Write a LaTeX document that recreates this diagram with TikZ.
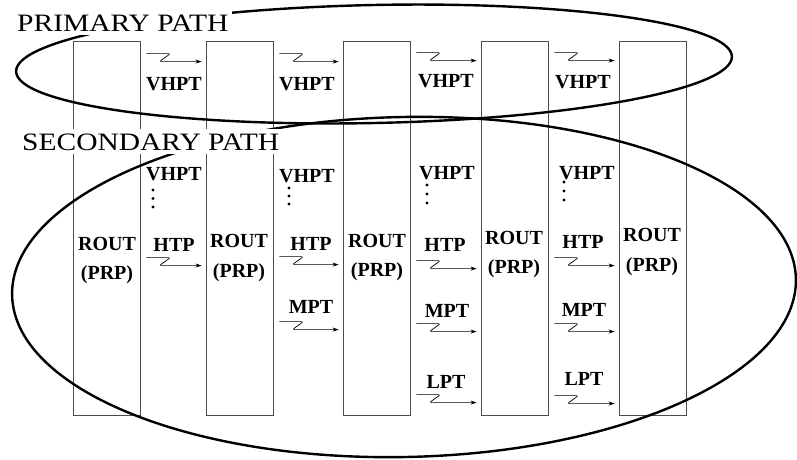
\documentclass[tikz,border=0pt]{standalone}
\usepackage{fontspec}
\setmainfont{Liberation Serif}
\newfontfamily\pathfont[FakeStretch=1.18]{Liberation Serif}
\usetikzlibrary{arrows.meta}
\begin{document}
\begin{tikzpicture}[x=1pt,y=-1pt,
    router/.style={draw=black!70,line width=0.8pt,minimum width=67pt,minimum height=374pt,inner sep=0pt},
    lbl/.style={font=\fontsize{20}{20}\selectfont\bfseries,inner sep=0pt},
    title/.style={font=\pathfont\fontsize{25}{25}\selectfont,fill=white,inner sep=4pt,anchor=base west},
    squig/.style={-{Stealth[length=6pt,width=4pt]},line width=0.7pt,rounded corners=1.5pt,
        to path={-- ++(24,0) -- ++(-11,8) -- (\tikztotarget)}},
    ring/.style={line width=2.4pt}]
\useasboundingbox (0,0) rectangle (797,459);
\node[router] (rt1) at (106.5,228) {};
\node[router] (rt2) at (239.5,228) {};
\node[router] (rt3) at (376.5,228) {};
\node[router] (rt4) at (514.5,228) {};
\node[router] (rt5) at (652.5,228) {};
\draw[ring,rotate around={1.2:(374,64)}] (374,64) ellipse [x radius=358,y radius=59];
\draw[ring,rotate around={1.2:(404,287)}] (404,287) ellipse [x radius=392,y radius=170];
\node[title] (prim) at (13,31) {PRIMARY PATH};
\node[title] (sec) at (18,150) {SECONDARY PATH};
% primary path
\node[lbl] (vp1) at (174,84) {VHPT};
\node[lbl] (vp2) at (307,84) {VHPT};
\node[lbl] (vp3) at (446,81) {VHPT};
\node[lbl] (vp4) at (583,82) {VHPT};
\draw[squig] ([shift={(6,13)}]rt1.north east) to ([shift={(-4,21)}]rt2.north west);
\draw[squig] ([shift={(6,13)}]rt2.north east) to ([shift={(-4,21)}]rt3.north west);
\draw[squig] ([shift={(6,12)}]rt3.north east) to ([shift={(-4,20)}]rt4.north west);
\draw[squig] ([shift={(6,12)}]rt4.north east) to ([shift={(-4,20)}]rt5.north west);
% secondary path
\node[lbl] (vs1) at (174,174) {VHPT};
\node[lbl] (vs2) at (307,176) {VHPT};
\node[lbl] (vs3) at (447,173) {VHPT};
\node[lbl] (vs4) at (587,173) {VHPT};
\fill (153,190) circle (1.6) (153,198.5) circle (1.6) (153,207) circle (1.6);
\fill (289,188) circle (1.6) (289,196) circle (1.6) (289,204) circle (1.6);
\fill (427,185) circle (1.6) (427,194) circle (1.6) (427,203) circle (1.6);
\fill (564,182) circle (1.6) (564,191) circle (1.6) (564,200) circle (1.6);
\node[lbl] (htp1) at (174,245) {HTP};
\node[lbl] (htp2) at (311,244) {HTP};
\node[lbl] (htp3) at (445,245) {HTP};
\node[lbl] (htp4) at (583,242) {HTP};
\draw[squig] ([shift={(6,217)}]rt1.north east) to ([shift={(-4,225)}]rt2.north west);
\draw[squig] ([shift={(6,216)}]rt2.north east) to ([shift={(-4,224)}]rt3.north west);
\draw[squig] ([shift={(6,220)}]rt3.north east) to ([shift={(-4,228)}]rt4.north west);
\draw[squig] ([shift={(6,217)}]rt4.north east) to ([shift={(-4,225)}]rt5.north west);
\node[lbl] (mpt2) at (311,307) {MPT};
\node[lbl] (mpt3) at (447,311) {MPT};
\node[lbl] (mpt4) at (584,310) {MPT};
\draw[squig] ([shift={(6,281)}]rt2.north east) to ([shift={(-4,289)}]rt3.north west);
\draw[squig] ([shift={(6,283)}]rt3.north east) to ([shift={(-4,291)}]rt4.north west);
\draw[squig] ([shift={(6,283)}]rt4.north east) to ([shift={(-4,291)}]rt5.north west);
\node[lbl] (lpt3) at (446,382) {LPT};
\node[lbl] (lpt4) at (584,379) {LPT};
\draw[squig] ([shift={(6,354)}]rt3.north east) to ([shift={(-4,362)}]rt4.north west);
\draw[squig] ([shift={(6,355)}]rt4.north east) to ([shift={(-4,363)}]rt5.north west);
% router labels
\node[lbl,anchor=base] (ro1) at (107,250.5) {ROUT};
\node[lbl,anchor=base] (pr1) at (107,279) {(PRP)};
\node[lbl,anchor=base] (ro2) at (239,247.5) {ROUT};
\node[lbl,anchor=base] (pr2) at (239,277) {(PRP)};
\node[lbl,anchor=base] (ro3) at (377,247.5) {ROUT};
\node[lbl,anchor=base] (pr3) at (377,276) {(PRP)};
\node[lbl,anchor=base] (ro4) at (514,244.5) {ROUT};
\node[lbl,anchor=base] (pr4) at (514,273) {(PRP)};
\node[lbl,anchor=base] (ro5) at (652,241) {ROUT};
\node[lbl,anchor=base] (pr5) at (652,271) {(PRP)};
\end{tikzpicture}
\end{document}
